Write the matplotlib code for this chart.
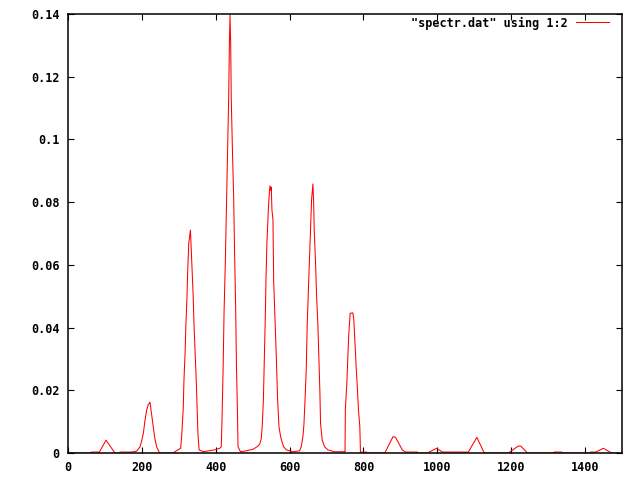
import matplotlib
matplotlib.use("Agg")
import matplotlib.pyplot as plt

# spectrum samples (column 1 : column 2)
freq = [0, 60, 64, 85, 103, 127, 140, 141, 172, 186, 195, 199, 204, 208,
        213, 217, 222, 226, 231, 235, 240, 247, 250, 288, 289, 305, 308,
        312, 314, 317, 319, 322, 324, 327, 331.5, 333, 336, 339, 341, 344,
        347, 349.5, 352, 355, 366, 397, 411, 415, 417, 420, 422.5, 426,
        429, 432, 435, 437, 438.7, 440.5, 442, 445, 448.6, 451, 454, 456,
        458.6, 460.4, 467, 483, 501, 512, 519, 523.4, 526, 529, 530.6,
        532.4, 534.2, 536, 538.7, 543.2, 546.8, 549.5, 550.4, 552.2, 555,
        556.8, 560.3, 564, 567.6, 571.2, 575.7, 579.3, 583.8, 591, 609,
        627, 631.5, 636, 638.7, 641.4, 645, 647.7, 650.4, 654, 656.8,
        659.5, 663.1, 664.9, 666.7, 670.3, 673, 676.6, 679.3, 682, 683.8,
        688.3, 694.6, 703.6, 721.6, 748.6, 750, 751, 755, 757.7, 760.4,
        764, 767.6, 771.2, 773.9, 776.6, 780.2, 783.8, 786.5, 790.1,
        791.9, 808, 810, 857, 859, 880, 887, 905, 914, 946, 948, 976, 978,
        998, 1014, 1084, 1107, 1127, 1195, 1196, 1219, 1226, 1244, 1315,
        1316, 1337, 1339, 1413, 1415, 1429, 1449.5, 1472, 1490]
power = [0, 0, 0.0003, 0.0003, 0.0041, 0, 0, 0.0003, 0.0003, 0.0006,
         0.002, 0.0036, 0.0063, 0.01, 0.0137, 0.0153, 0.0162, 0.0127,
         0.0084, 0.0047, 0.002, 0.0002, 0, 0, 0.0004, 0.0015, 0.0057,
         0.0142, 0.0233, 0.0318, 0.0403, 0.0493, 0.0578, 0.0669, 0.0711,
         0.0669, 0.0584, 0.0499, 0.0414, 0.0329, 0.0238, 0.0148, 0.0057,
         0.001, 0.0004, 0.001, 0.0015, 0.002, 0.0105, 0.027, 0.0446, 0.061,
         0.078, 0.0956, 0.1131, 0.1307, 0.1397, 0.1307, 0.1131, 0.0977,
         0.0812, 0.0642, 0.0461, 0.0286, 0.0142, 0.002, 0.0004, 0.0007,
         0.0012, 0.002, 0.0028, 0.0047, 0.0089, 0.0169, 0.0249, 0.0334,
         0.0435, 0.0552, 0.0674, 0.0796, 0.0852, 0.0837, 0.0848, 0.0775,
         0.0743, 0.0552, 0.0435, 0.0307, 0.0169, 0.0084, 0.0052, 0.0036,
         0.002, 0.001, 0.0004, 0.0007, 0.002, 0.0052, 0.0089, 0.0158,
         0.0265, 0.0408, 0.0504, 0.0621, 0.0711, 0.0807, 0.0858, 0.0807,
         0.0711, 0.0605, 0.0504, 0.0408, 0.0297, 0.0196, 0.0095, 0.0041,
         0.002, 0.001, 0.0004, 0.0004, 0.0003, 0.0142, 0.0222, 0.0307,
         0.0382, 0.0446, 0.0446, 0.0447, 0.0424, 0.036, 0.0275, 0.0201,
         0.0137, 0.0084, 0.0003, 0.0003, 0, 0, 0.0003, 0.0052, 0.005,
         0.001, 0.0003, 0.0003, 0, 0, 0.0003, 0.0015, 0.0003, 0.0003,
         0.005, 0, 0, 0.0003, 0.0022, 0.0022, 0, 0, 0.0003, 0.0003, 0, 0,
         0.0003, 0.0003, 0.0015, 0, 0]

xticks = [0, 200, 400, 600, 800, 1000, 1200, 1400]
yticks = [0, 0.02, 0.04, 0.06, 0.08, 0.1, 0.12, 0.14]
ytick_labels = ["0", "0.02", "0.04", "0.06", "0.08", "0.1", "0.12", "0.14"]

plt.rcParams['font.family'] = ['DejaVu Sans Mono']
plt.rcParams['font.size'] = 8.5
plt.rcParams['font.weight'] = 'bold'

fig = plt.figure(figsize=(6.4, 4.8), dpi=100)
ax = fig.add_axes([68 / 640, 27 / 480, 554 / 640, 439 / 480])

ax.plot(freq, power, color='red', linewidth=0.75, label='"spectr.dat" using 1:2')

ax.set_xlim(0, 1500)
ax.set_ylim(0, 0.14)
ax.set_xticks(xticks)
ax.set_yticks(yticks)
ax.set_yticklabels(ytick_labels)
ax.tick_params(direction='in', length=4, width=0.8, top=True, right=True,
               pad=6, colors='black')
# border in front, so zero-level parts of the trace sit under the axis
for sp in ax.spines.values():
    sp.set_linewidth(1.1)
    sp.set_zorder(3)

ax.legend(loc='center right', bbox_to_anchor=(609 / 640, 1 - 23 / 480),
          bbox_transform=fig.transFigure, frameon=False, markerfirst=False,
          handlelength=2.8, handletextpad=0.7, borderpad=0, borderaxespad=0)

fig.savefig('out.png', dpi=100)
